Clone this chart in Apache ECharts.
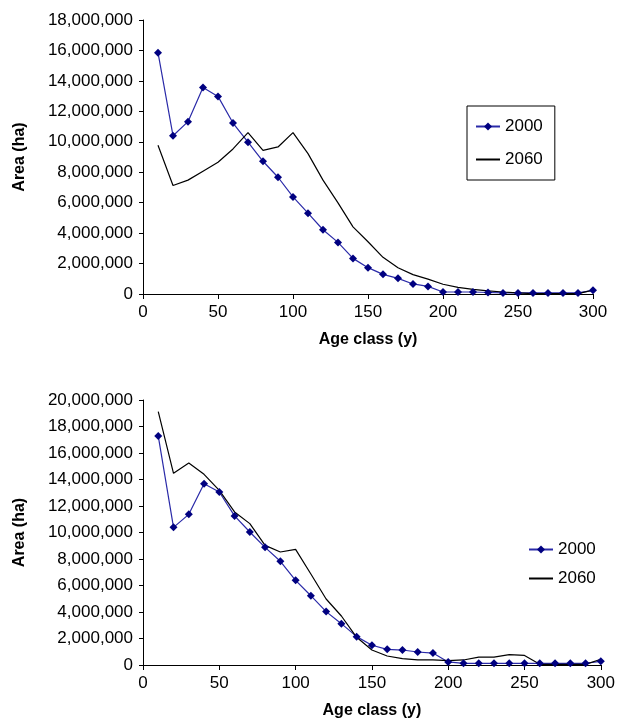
<!DOCTYPE html>
<html>
<head>
<meta charset="utf-8">
<script src="https://cdn.jsdelivr.net/npm/echarts@6/dist/echarts.min.js"></script>
<style>
  html, body { margin: 0; padding: 0; background: #fff; }
  #main { width: 618px; height: 726px; }
</style>
</head>
<body>
<div id="main"></div>
<script>
var ages = [10, 20, 30, 40, 50, 60, 70, 80, 90, 100, 110, 120, 130, 140, 150,
  160, 170, 180, 190, 200, 210, 220, 230, 240, 250, 260, 270, 280, 290, 300];

// top panel
var top2000 = [15850000, 10400000, 11320000, 13570000, 12980000, 11230000, 9970000, 8720000, 7670000, 6380000,
  5310000, 4220000, 3390000, 2340000, 1730000, 1290000, 1030000, 660000, 500000, 130000,
  130000, 130000, 100000, 70000, 70000, 70000, 70000, 70000, 70000, 240000];
var top2060 = [9770000, 7130000, 7480000, 8070000, 8660000, 9530000, 10600000, 9440000, 9660000, 10600000,
  9220000, 7480000, 5990000, 4410000, 3430000, 2410000, 1720000, 1270000, 980000, 640000,
  430000, 310000, 200000, 130000, 70000, 30000, 30000, 30000, 30000, 250000];

// bottom panel
var bot2000 = [17280000, 10390000, 11370000, 13680000, 13060000, 11250000, 10040000, 8880000, 7830000, 6390000,
  5230000, 4030000, 3120000, 2140000, 1490000, 1180000, 1130000, 980000, 900000, 230000,
  130000, 130000, 130000, 130000, 130000, 130000, 130000, 130000, 130000, 280000];
var bot2060 = [19120000, 14470000, 15250000, 14390000, 13180000, 11550000, 10670000, 9030000, 8530000, 8730000,
  6870000, 4980000, 3700000, 2090000, 1130000, 680000, 480000, 380000, 380000, 330000,
  380000, 600000, 600000, 780000, 720000, 50000, 50000, 50000, 50000, 430000];

function pairs(vals) {
  return ages.map(function (a, i) { return [a, vals[i]]; });
}

var font = 'Liberation Sans, Arial, sans-serif';
var numFmt = function (v) { return v.toLocaleString('en-US'); };

function xAx(idx) {
  return {
    type: 'value', gridIndex: idx, min: 0, max: 300, interval: 50,
    name: 'Age class (y)', nameLocation: 'middle', nameGap: 38,
    nameTextStyle: { fontFamily: font, fontSize: 16, fontWeight: 'bold', color: '#000' },
    axisLine: { lineStyle: { color: '#000', width: 1 } },
    axisTick: { show: true, length: 5, lineStyle: { color: '#000' } },
    axisLabel: { fontFamily: font, fontSize: 17, color: '#000', margin: 10 },
    splitLine: { show: false }
  };
}
function yAx(idx, max) {
  return {
    type: 'value', gridIndex: idx, min: 0, max: max, interval: 2000000,
    name: 'Area (ha)', nameLocation: 'middle', nameGap: 115, nameRotate: 90,
    nameTextStyle: { fontFamily: font, fontSize: 16, fontWeight: 'bold', color: '#000' },
    axisLine: { show: true, lineStyle: { color: '#000', width: 1 } },
    axisTick: { show: true, length: 4, lineStyle: { color: '#000' } },
    axisLabel: { fontFamily: font, fontSize: 17, color: '#000', margin: 10, formatter: numFmt },
    splitLine: { show: false }
  };
}

function s2000(idx, vals) {
  return {
    name: '2000', type: 'line', xAxisIndex: idx, yAxisIndex: idx,
    data: pairs(vals), symbol: 'diamond', symbolSize: 8,
    lineStyle: { color: '#2a2aa8', width: 1.2 },
    itemStyle: { color: '#000080' }, animation: false
  };
}
function s2060(idx, vals) {
  return {
    name: '2060', type: 'line', xAxisIndex: idx, yAxisIndex: idx,
    data: pairs(vals), symbol: 'none',
    lineStyle: { color: '#000', width: 1.2 },
    itemStyle: { color: '#000' }, animation: false
  };
}

var legendItems = ['2000', { name: '2060', itemStyle: { opacity: 0 } }];

var chart = echarts.init(document.getElementById('main'));
chart.setOption({
  backgroundColor: '#fff',
  animation: false,
  grid: [
    { left: 143, top: 20, width: 450, height: 274 },
    { left: 143, top: 400, width: 458, height: 265 }
  ],
  xAxis: [xAx(0), xAx(1)],
  yAxis: [yAx(0, 18000000), yAx(1, 20000000)],
  legend: [
    {
      data: legendItems, orient: 'vertical', left: 467, top: 106,
      itemWidth: 24, itemHeight: 10, itemGap: 16, padding: [12, 12, 12, 8],
      borderColor: '#000', borderWidth: 1,
      textStyle: { fontFamily: font, fontSize: 17, color: '#000' }
    },
    {
      data: legendItems, orient: 'vertical', left: 523, top: 536,
      itemWidth: 24, itemHeight: 10, itemGap: 12,
      textStyle: { fontFamily: font, fontSize: 17, color: '#000' }
    }
  ],
  series: [s2000(0, top2000), s2060(0, top2060), s2000(1, bot2000), s2060(1, bot2060)]
});
</script>
</body>
</html>
